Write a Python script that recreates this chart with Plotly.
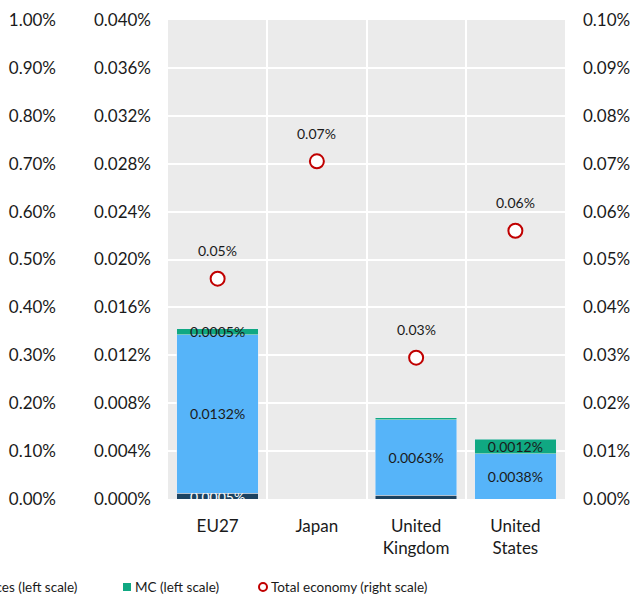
import plotly.graph_objects as go

# ---------------- data ----------------
categories = ["EU27", "Japan", "United<br>Kingdom", "United<br>States"]
manufacturing = [0.0005, None, 0.0003, None]      # left scale, %
services = [0.0132, None, 0.0063, 0.0038]          # left scale, %
mc = [0.0005, None, 0.0002, 0.0012]                # left scale, %
total_economy = [0.046, 0.0705, 0.0295, 0.056]     # right scale, %
outer_scale_range = [0, 1.0]                       # outer left scale, %

manufacturing_labels = ["0.0005%", "", "", ""]
services_labels = ["0.0132%", "", "0.0063%", "0.0038%"]
mc_labels = ["0.0005%", "", "", "0.0012%"]
total_labels = ["0.05%", "0.07%", "0.03%", "0.06%"]

legend_names = ["Services (left scale)", "MC (left scale)", "Total economy (right scale)"]

# ---------------- style ----------------
FONT = "Lato, 'Open Sans', sans-serif"
NAVY = "#1C4260"
BLUE = "#56B4F9"
GREEN = "#10A882"
RED = "#C00000"
TXT = "#1a1a1a"

W, H = 635, 596
ML, MR, MT, MB = 10, 70, 20, 97
PW = W - ML - MR
PH = H - MT - MB

def px_x(px):
    return (px - ML) / PW

def px_y(py):
    return (H - MB - py) / PH

fig = go.Figure()

bar_common = dict(textposition="inside", insidetextanchor="middle", constraintext="none",
                  textangle=0, showlegend=False, hoverinfo="skip")

fig.add_trace(go.Bar(x=categories, y=manufacturing, text=manufacturing_labels, marker_color=NAVY,
                     textfont=dict(family=FONT, size=14, color="white"), name="Manufacturing (left scale)",
                     **bar_common))
fig.add_trace(go.Bar(x=categories, y=services, text=services_labels, marker_color=BLUE,
                     textfont=dict(family=FONT, size=14, color=TXT), name=legend_names[0],
                     **bar_common))
fig.add_trace(go.Bar(x=categories, y=mc, text=mc_labels, marker_color=GREEN,
                     textfont=dict(family=FONT, size=14, color=TXT), name=legend_names[1],
                     **bar_common))
fig.add_trace(go.Scatter(x=categories, y=total_economy, yaxis="y2", mode="markers",
                         marker=dict(symbol="circle", size=14, color="white",
                                     line=dict(color=RED, width=2)),
                         name=legend_names[2], showlegend=False, hoverinfo="skip"))
# invisible trace so the outer left scale is drawn
fig.add_trace(go.Scatter(x=[categories[0], categories[0]], y=outer_scale_range, yaxis="y3",
                         mode="markers", marker=dict(opacity=0), showlegend=False, hoverinfo="skip"))

annotations = []
for c, v, lab in zip(categories, total_economy, total_labels):
    annotations.append(dict(x=c, y=v, xref="x", yref="y2", text=lab, showarrow=False,
                            yshift=28, font=dict(family=FONT, size=14, color=TXT)))

# manual legend (partly outside the canvas as in the reference)
LEG_Y = 587
LEG_FONT = dict(family=FONT, size=13.5, color=TXT)
annotations.append(dict(x=px_x(79), y=px_y(LEG_Y), xref="paper", yref="paper", xanchor="right",
                        yanchor="middle", text=legend_names[0], showarrow=False, font=LEG_FONT))
annotations.append(dict(x=px_x(133), y=px_y(LEG_Y), xref="paper", yref="paper", xanchor="left",
                        yanchor="middle", text=legend_names[1], showarrow=False, font=LEG_FONT))
annotations.append(dict(x=px_x(269), y=px_y(LEG_Y), xref="paper", yref="paper", xanchor="left",
                        yanchor="middle", text=legend_names[2], showarrow=False, font=LEG_FONT))

shapes = [
    dict(type="rect", xref="paper", yref="paper", x0=px_x(123), x1=px_x(131),
         y0=px_y(LEG_Y + 4), y1=px_y(LEG_Y - 4), fillcolor=GREEN, line=dict(width=0)),
    dict(type="circle", xref="paper", yref="paper", x0=px_x(259), x1=px_x(267),
         y0=px_y(LEG_Y + 4), y1=px_y(LEG_Y - 4), fillcolor="white", line=dict(color=RED, width=2)),
]

tickfont = dict(family=FONT, size=17, color=TXT)

fig.update_layout(
    width=W, height=H,
    margin=dict(l=ML, r=MR, t=MT, b=MB, autoexpand=False),
    paper_bgcolor="white",
    plot_bgcolor="#EBEBEB",
    barmode="stack",
    bargap=0.18,
    showlegend=False,
    font=dict(family=FONT, color=TXT),
    annotations=annotations,
    shapes=shapes,
    xaxis=dict(domain=[px_x(168), 1], type="category", tickson="boundaries", automargin=False,
               showgrid=True, gridcolor="white", gridwidth=2, ticks="", tickfont=tickfont,
               ticklabelstandoff=15, showline=False, zeroline=False, fixedrange=True),
    yaxis=dict(range=[0, 0.04], dtick=0.004, tick0=0, tickformat=".3f", ticksuffix="%",
               showgrid=True, gridcolor="white", gridwidth=1.5, zeroline=False, automargin=False,
               tickfont=tickfont, ticklabelstandoff=16, showline=False),
    yaxis2=dict(range=[0, 0.1], dtick=0.01, tick0=0, tickformat=".2f", ticksuffix="%",
                overlaying="y", side="right", showgrid=False, zeroline=False, automargin=False,
                tickfont=tickfont, ticklabelstandoff=17, showline=False),
    yaxis3=dict(range=outer_scale_range, dtick=0.1, tick0=0, tickformat=".2f", ticksuffix="%",
                overlaying="y", side="left", anchor="free", position=px_x(60), automargin=False,
                showgrid=False, zeroline=False, tickfont=tickfont, ticklabelstandoff=4,
                showline=False),
)

fig.write_html("out.html", config={"displayModeBar": False},
               post_script="document.body.style.margin='0px';")
